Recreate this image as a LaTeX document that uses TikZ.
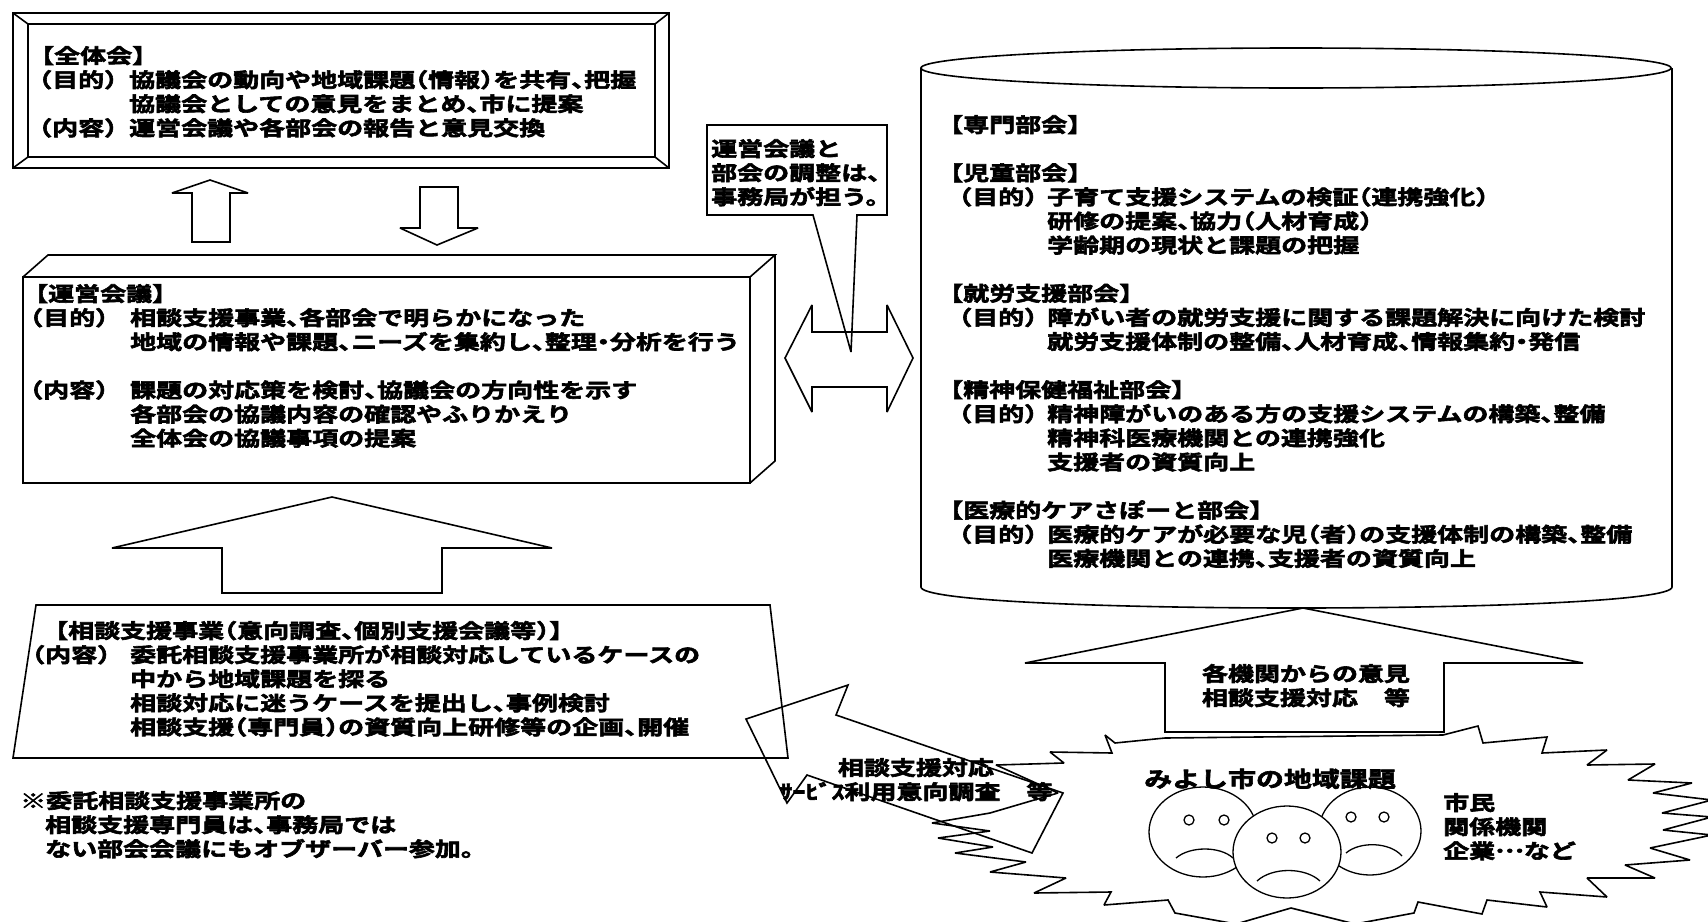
\documentclass[tikz,border=0pt]{standalone}
\usepackage{fontspec}
\newfontfamily\jfont{Noto Sans CJK JP}[FakeStretch=1.3,BoldFont={* Bold},BoldFeatures={FakeBold=3}]
% strut that fixes the height of the first text line
\newcommand\firstln{\rule{0pt}{20pt}}
% half-width punctuation
\newcommand\hten{\makebox[13pt][l]{、}}
\newcommand\hlp{\makebox[13pt][r]{（}}
\newcommand\hrp{\makebox[13pt][l]{）}}
\newcommand\hdot{\makebox[13pt][c]{・}}
\newcommand\midell{\raisebox{6pt}{…}}
% label column: width, lead-in, label word
\newcommand\lbl[3]{\makebox[#1][l]{\hspace*{#2}\hlp #3\hrp}}
\tikzset{
  ln/.style={line width=1.6pt, line join=miter, miter limit=3},
  fine/.style={line width=1.3pt},
  jt/.style={font=\jfont\bfseries\fontsize{20}{24.1}\selectfont, inner sep=0pt,
             align=left, anchor=north west, text=black},
  jc/.style={jt, align=center, anchor=north},
}
\begin{document}
\begin{tikzpicture}[x=1pt, y=-1pt]
\useasboundingbox (0,0) rectangle (1708,921);
\fill[white] (0,0) rectangle (1708,921);

% ---- 全体会: bevelled frame
\draw[ln] (13,13) rectangle (669,168);
\draw[ln] (28,24) rectangle (655,157);
\draw[ln] (13,13)--(28,24) (669,13)--(655,24) (13,168)--(28,157) (669,168)--(655,157);
\node[jt] (zentai) at (28,43) {\firstln【全体会】\\
\lbl{101pt}{11pt}{目的}協議会の動向や地域課題\hlp 情報\hrp を共有\hten 把握\\
\hspace*{101pt}協議会としての意見をまとめ\hten 市に提案\\
\lbl{101pt}{11pt}{内容}運営会議や各部会の報告と意見交換};

% ---- up / down block arrows between 全体会 and 運営会議
\draw[ln] (192,242)--(192,193)--(172,193)--(210,180)--(248,193)--(230,193)--(230,242)--cycle;
\draw[ln] (420,187)--(458,187)--(458,228)--(478,228)--(437,245)--(400,228)--(420,228)--cycle;

% ---- 運営会議: box with depth
\draw[ln] (23,277) rectangle (750,483);
\draw[ln] (23,277)--(48,255)--(775,255)--(750,277);
\draw[ln] (775,255)--(775,461)--(750,483);
\node[jt] (unei) at (22,281) {\firstln【運営会議】\\
\lbl{108pt}{8pt}{目的}相談支援事業\hten 各部会で明らかになった\\
\hspace*{108pt}地域の情報や課題\hten ニーズを集約し\hten 整理\hdot 分析を行う\\[24.1pt]
\lbl{108pt}{8pt}{内容}課題の対応策を検討\hten 協議会の方向性を示す\\
\hspace*{108pt}各部会の協議内容の確認やふりかえり\\
\hspace*{108pt}全体会の協議事項の提案};

% ---- large up arrow from 相談支援事業
\draw[ln] (222,593)--(222,548)--(112,548)--(332,497)--(552,548)--(442,548)--(442,593)--cycle;

% ---- 相談支援事業 box
\draw[ln] (36,605)--(770,605)--(788,758)--(13,758)--cycle;
\node[jt] (soudan) at (27,618) {\firstln\hspace*{15pt}【相談支援事業\hlp 意向調査\hten 個別支援会議等\hrp 】\\
\lbl{103pt}{5pt}{内容}委託相談支援事業所が相談対応しているケースの\\
\hspace*{103pt}中から地域課題を探る\\
\hspace*{103pt}相談対応に迷うケースを提出し\hten 事例検討\\
\hspace*{103pt}相談支援\hlp 専門員\hrp の資質向上研修等の企画\hten 開催};

% ---- footnote
\node[jt] (note) at (20,788) {\firstln ※委託相談支援事業所の\\
\hspace*{25pt}相談支援専門員は\hten 事務局では\\
\hspace*{25pt}ない部会会議にもオブザーバー参加。};

% ---- callout
\draw[ln] (707,125)--(887,125)--(887,215)--(857,215)--(851,352)--(813,215)--(707,215)--cycle;
\node[jt] (callout) at (711,136) {\firstln 運営会議と\\部会の調整は、\\事務局が担う。};

% ---- double-headed block arrow
\draw[ln] (785,358)--(812,305)--(812,332)--(887,332)--(887,305)--(913,358)
          --(887,412)--(887,387)--(812,387)--(812,412)--cycle;

% ---- 専門部会 cylinder
\draw[ln] (1296,68) ellipse [x radius=375, y radius=20];
\draw[ln] (921,68)--(921,587) .. controls (921,615) and (1672,615) .. (1672,587)--(1672,68);
\node[jt] (senmon) at (937,112) {\firstln【専門部会】\\[24.1pt]
【児童部会】\\
\lbl{110pt}{22pt}{目的}子育て支援システムの検証\hlp 連携強化\hrp\\
\hspace*{110pt}研修の提案\hten 協力\hlp 人材育成\hrp\\
\hspace*{110pt}学齢期の現状と課題の把握\\[24.1pt]
【就労支援部会】\\
\lbl{110pt}{22pt}{目的}障がい者の就労支援に関する課題解決に向けた検討\\
\hspace*{110pt}就労支援体制の整備\hten 人材育成\hten 情報集約\hdot 発信\\[24.1pt]
【精神保健福祉部会】\\
\lbl{110pt}{22pt}{目的}精神障がいのある方の支援システムの構築\hten 整備\\
\hspace*{110pt}精神科医療機関との連携強化\\
\hspace*{110pt}支援者の資質向上\\[24.1pt]
【医療的ケアさぽーと部会】\\
\lbl{110pt}{22pt}{目的}医療的ケアが必要な児\hlp 者\hrp の支援体制の構築\hten 整備\\
\hspace*{110pt}医療機関との連携\hten 支援者の資質向上};

% ---- starburst: みよし市の地域課題
\draw[ln, line join=miter, miter limit=2]
  (1165,738)--(1443,735)--(1478,726)--(1483,743)--(1547,737)--(1542,753)
  --(1607,750)--(1587,765)--(1655,764)--(1628,780)--(1692,783)--(1653,793)
  --(1712,800)--(1662,813)--(1712,817)--(1663,830)--(1712,835)--(1650,848)
  --(1690,860)--(1625,865)--(1655,878)--(1587,878)--(1607,897)--(1540,892)
  --(1547,907)--(1487,900)--(1482,914)--(1418,902)--(1414,913)--(1355,924)
  --(1291,908)--(1236,924)--(1175,913)--(1168,900)--(1104,905)--(1111,892)
  --(1034,893)--(1066,878)--(990,872)--(1026,862)--(955,853)--(993,847)
  --(938,838)--(990,831)--(932,823)--(990,813)--(1058,793)--(996,765)
  --(1064,763)--(1050,752)--(1112,753)--(1105,735)--(1115,743)--cycle;

% ---- up arrow into the cylinder
\draw[ln] (1165,732)--(1165,663)--(1025,663)--(1303,608)--(1583,663)--(1444,663)--(1444,732)--cycle;
\node[jc] (kikan) at (1306,661) {\firstln 各機関からの意見\\相談支援対応　等};

% ---- diagonal arrow back to 相談支援事業
\draw[ln] (746,719)--(848,685)--(836,715)--(1063,793)--(1032,853)--(807,775)--(787,803)--cycle;
\node[jc] (ikou) at (916,755) {\firstln 相談支援対応\\ｻｰﾋﾞｽ利用意向調査　等};

% ---- faces
\draw[fine] (1203,832) ellipse [x radius=54, y radius=45];
\draw[fine] (1189,820) circle [radius=5] (1224,820) circle [radius=5];
\draw[fine] (1176,858) .. controls (1190,846) and (1220,846) .. (1233,858);
\draw[fine] (1370,831) ellipse [x radius=51, y radius=44];
\draw[fine] (1351,817) circle [radius=5] (1384,817) circle [radius=5];
\draw[fine] (1346,853) .. controls (1360,841) and (1390,842) .. (1402,856);
\draw[fine, fill=white] (1287,852) ellipse [x radius=54, y radius=46];
\draw[fine] (1272,838) circle [radius=5] (1305,838) circle [radius=5];
\draw[fine] (1257,881) .. controls (1272,867) and (1305,867) .. (1320,881);

\node[jt, font=\jfont\bfseries\fontsize{21.5}{24}\selectfont, anchor=base] (miyoshi) at (1270,787) {みよし市の地域課題};
\node[jt] (shimin) at (1443,790) {\firstln 市民\\関係機関\\企業\midell など};
\end{tikzpicture}
\end{document}
